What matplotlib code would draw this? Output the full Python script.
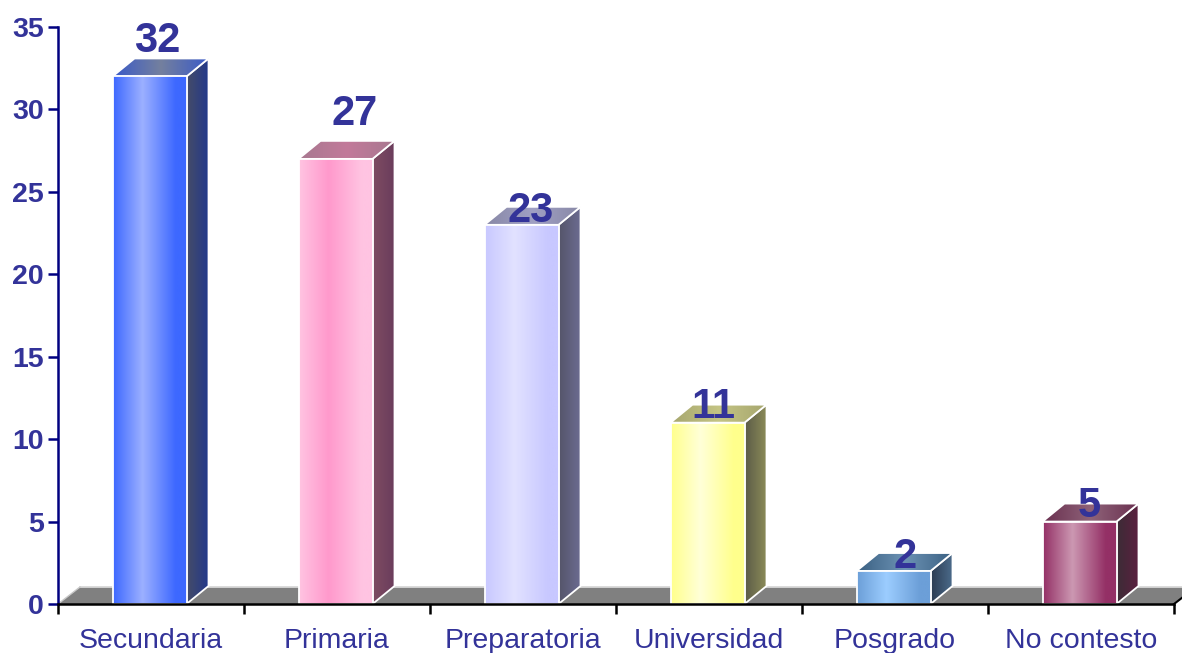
import numpy as np
import matplotlib.pyplot as plt
from matplotlib.colors import LinearSegmentedColormap
from matplotlib.patches import Polygon

plt.rcParams['font.family'] = ['Liberation Sans', 'DejaVu Sans']

categorias = ['Secundaria', 'Primaria', 'Preparatoria', 'Universidad', 'Posgrado', 'No contesto']
valores = [32, 27, 23, 11, 2, 5]

# cara frontal: (borde, centro claro)
frente = [('#3d68ff', '#9cb0ff'), ('#ffc4e2', '#ff99cc'), ('#c8c8ff', '#e2e2ff'),
          ('#ffff8c', '#ffffd8'), ('#6c9fd8', '#9ccdff'), ('#943066', '#cc98b2')]
lateral = [('#454c68', '#22388c'), ('#7e4c62', '#6a3c5c'), ('#55556a', '#6c6c92'),
           ('#5c5c48', '#8c8c58'), ('#2c3c52', '#4c6c8c'), ('#3c2c36', '#5c2040')]
superior = [('#3a5ac8', '#74809e'), ('#a87890', '#c27a9a'), ('#8888a6', '#a0a0c4'),
            ('#a6a66e', '#c4c484'), ('#3a6082', '#6c92b4'), ('#6a3050', '#8e6278')]
# posicion de cada etiqueta respecto a su barra (pixeles)
lbl_dx = [8, 19, 9, 6, 12, 10]
lbl_dy = [24, 34, 3, 5, 3, 5]

W, H = 1182, 653
fig = plt.figure(figsize=(W / 100, H / 100), dpi=100)
ax = fig.add_axes([58 / W, 49 / H, 1116 / W, 577 / H])

px_x = 1116 / 6
px_y = 577 / 35
dx = 22 / px_x
dy = 18 / px_y
dyf = 17 / px_y
ancho = 74 / px_x


def degradado(xy, paradas, z):
    xs = [p[0] for p in xy]
    ys = [p[1] for p in xy]
    cmap = LinearSegmentedColormap.from_list('g', paradas)
    grad = np.linspace(0, 1, 256).reshape(1, -1)
    im = ax.imshow(grad, cmap=cmap, aspect='auto', origin='lower', zorder=z,
                   extent=(min(xs), max(xs), min(ys), max(ys)), interpolation='bilinear')
    poly = Polygon(xy, closed=True, facecolor='none', edgecolor='white', lw=1.3, zorder=z + 0.1)
    ax.add_patch(poly)
    im.set_clip_path(poly)


# piso gris
piso = Polygon([(0, 0), (6, 0), (6 + dx, dyf), (dx, dyf)], closed=True,
               facecolor='#808080', edgecolor='none', zorder=1, clip_on=False)
ax.add_patch(piso)
ax.plot([dx, 6 + dx], [dyf, dyf], color='#d8d8d8', lw=1.3, zorder=1.1, clip_on=False)
ax.plot([0, dx], [0, dyf], color='#c8c8c8', lw=1.0, zorder=1.1, clip_on=False)
ax.plot([6, 6 + dx], [0, dyf], color='black', lw=1.5, zorder=1.1, clip_on=False)

for i, v in enumerate(valores):
    x0 = i + 0.5 - ancho / 2 - 0.008
    x1 = x0 + ancho
    z = 3 + i
    e, c = frente[i]
    degradado([(x1, 0), (x1 + dx, dy), (x1 + dx, v + dy), (x1, v)], lateral[i], z)
    s0, s1 = superior[i]
    degradado([(x0, v), (x1, v), (x1 + dx, v + dy), (x0 + dx, v + dy)],
              [(0, s0), (0.5, s1), (1, s0)], z + 0.2)
    degradado([(x0, 0), (x1, 0), (x1, v), (x0, v)],
              [(0, e), (0.4, c), (0.85, e), (1, e)], z + 0.4)
    ax.annotate(str(v), (x0 + ancho / 2, v), xytext=(lbl_dx[i] * 0.72, lbl_dy[i] * 0.72),
                textcoords='offset points', ha='center', va='baseline', fontsize=30,
                fontweight='bold', color='#333399', zorder=20)

ax.set_xlim(0, 6)
ax.set_ylim(0, 35)

for s in ['top', 'right']:
    ax.spines[s].set_visible(False)
ax.spines['left'].set_color('#000080')
ax.spines['left'].set_linewidth(1.8)
ax.spines['bottom'].set_color('black')
ax.spines['bottom'].set_linewidth(1.8)
ax.spines['bottom'].set_zorder(15)

ax.set_yticks(range(0, 36, 5))
ax.tick_params(axis='y', length=7, width=1.8, color='#000080', pad=3,
               labelsize=20.5, labelcolor='#333399')
for t in ax.get_yticklabels():
    t.set_fontweight('bold')

ax.set_xticks(np.arange(6) + 0.5)
ax.set_xticklabels(categorias)
ax.set_xticks(range(7), minor=True)
ax.tick_params(axis='x', which='major', length=0, pad=17, labelsize=20.5, labelcolor='#333399')
ax.tick_params(axis='x', which='minor', length=7, width=1.8, color='black')

fig.savefig('out.png', dpi=100)
